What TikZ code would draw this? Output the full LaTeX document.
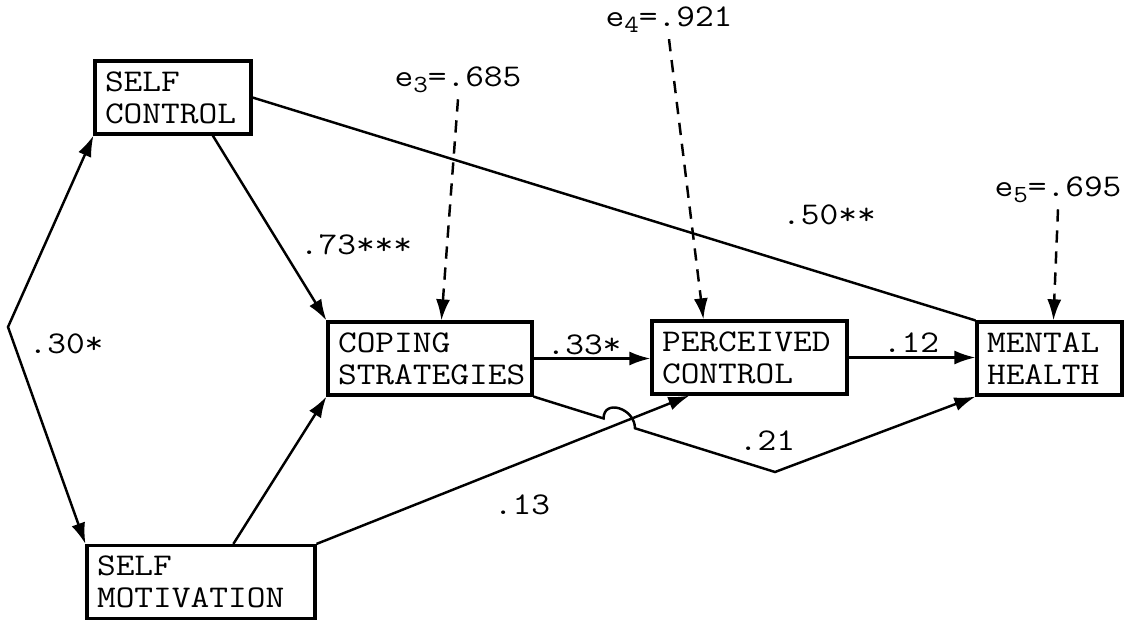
\documentclass[tikz,border=0pt]{standalone}
\usepackage{fontspec}
\setmonofont[FakeStretch=1.15]{Latin Modern Mono}
\usetikzlibrary{arrows.meta, calc, positioning}
\newcommand{\esub}[1]{\raisebox{-0.45ex}{\fontsize{14}{14}\selectfont #1}}

\begin{document}
\begin{tikzpicture}[x=0.02cm, y=-0.02cm, >={Latex[length=12pt,width=8pt]},
  every node/.style={font=\ttfamily\fontsize{18}{18.3}\selectfont},
  varbox/.style={draw, line width=1.8pt, align=left, inner xsep=0.2cm, text width=#1, minimum height=1.46cm},
  link/.style={line width=1.4pt},
  errline/.style={line width=1.4pt, dash pattern=on 7pt off 5pt}]
\useasboundingbox (0,0) rectangle (1126,619);
\node[varbox=2.72cm] (sc) at (173,97.5) {SELF\\CONTROL};
\node[varbox=4.16cm] (sm) at (201,582) {SELF\\MOTIVATION};
\node[varbox=3.68cm] (cs) at (430,358.5) {COPING\\STRATEGIES};
\node[varbox=3.5cm] (pc) at (749.5,357.5) {PERCEIVED\\CONTROL};
\node[varbox=2.5cm] (mh) at (1049.5,358.5) {MENTAL\\HEALTH};
\node (e3) at (458,80) {e\esub{3}=.685};
\node (e4) at (669,20) {e\esub{4}=.921};
\node (e5) at (1058,190) {e\esub{5}=.695};
\coordinate (corr) at (8,327);
\coordinate (kink) at (775,472);
\draw[link, <->] (sc.south west) -- (corr) -- (sm.north west);
\draw[link, ->] ($(sc.south west)!0.75!(sc.south east)$) -- (cs.north west);
\draw[link, ->] ($(sm.north west)!0.64!(sm.north east)$) -- (cs.south west);
\draw[link] (sc.east) -- (mh.north west);
\draw[link, ->] (cs.east) -- (cs.east -| pc.west);
\draw[link, ->] (pc.east) -- (pc.east -| mh.west);
\draw[link, ->] (sm.north east) -- ([xshift=0.78cm]pc.south west);
\draw[link, ->] (cs.south east) -- ($(cs.south east)!0.29!(kink)$) .. controls +(0,-20) and +(0,-20) .. ($(cs.south east)!0.42!(kink)$) -- (kink) -- (mh.south west);
\draw[errline, ->] (e3.south) -- ([xshift=2.3cm]cs.north west);
\draw[errline, ->] (e4.south) -- ([xshift=1.06cm]pc.north west);
\draw[errline, ->] (e5.south) -- ([xshift=1.56cm]mh.north west);
\node at (66,344) {.30*};
\node at (356,245) {.73***};
\node at (829,215) {.50**};
\node at (584,345) {.33*};
\node at (911,343) {.12};
\node at (767,441) {.21};
\node at (522,505) {.13};
\end{tikzpicture}
\end{document}
